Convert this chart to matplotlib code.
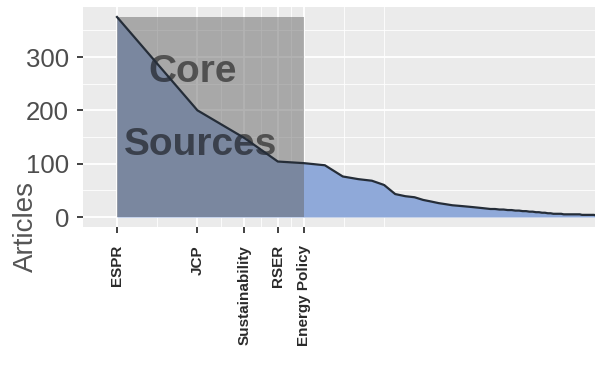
import numpy as np
import matplotlib
matplotlib.use("Agg")
import matplotlib.pyplot as plt
from matplotlib.patches import Rectangle

# Articles per source, sources sorted by rank (Bradford plot, x = log(rank))
freq = [375, 200, 148, 104, 101, 97, 76, 71, 68, 60,
        43, 39, 37, 32, 29, 26, 24, 22, 21, 20,
        19, 18, 17, 16, 15, 15, 14, 14, 13, 13,
        12, 12, 11, 11, 10, 10, 9, 9, 8, 8,
        7, 7, 6, 6, 6, 6, 5, 5, 5, 5,
        5, 5, 5, 5, 4, 4, 4, 4, 4, 4,
        4, 3, 3, 3, 3]
core_labels = ["ESPR", "JCP", "Sustainability", "RSER", "Energy Policy"]
n_core = len(core_labels)

rank = np.arange(1, len(freq) + 1)
x = np.log(rank)
freq = np.array(freq)

plt.rcParams['font.family'] = ['Liberation Sans', 'DejaVu Sans']

fig = plt.figure(figsize=(5.95, 3.78), dpi=100)
ax = fig.add_axes([83/595, 1 - 227/378, 1 - 83/595, (227 - 7)/378])
ax.set_facecolor('#EBEBEB')

# grid like ggplot theme_gray
major_x = x[:n_core]
minor_x = [0.347, 0.896, 1.242, 1.498, 1.956, 2.303]
for v in [0, 100, 200, 300]:
    ax.axhline(v, color='white', lw=1.3, zorder=0)
for v in [50, 150, 250, 350]:
    ax.axhline(v, color='white', lw=0.6, zorder=0)
for v in major_x:
    ax.axvline(v, color='white', lw=1.3, zorder=0)
for v in minor_x:
    ax.axvline(v, color='white', lw=0.6, zorder=0)

ax.fill_between(x, 0, freq, color='#8FA9D9', lw=0, zorder=1)

# core zone rectangle
ax.add_patch(Rectangle((0, 0), x[n_core - 1], freq.max(), facecolor='#676767',
                       alpha=0.5, lw=0, zorder=2))

ax.text(0.65, 253, "Core", fontsize=28, fontweight='bold', color='black',
        alpha=0.52, ha='center', va='baseline', zorder=2.5)
ax.text(0.72, 116, "Sources", fontsize=28, fontweight='bold', color='black',
        alpha=0.52, ha='center', va='baseline', zorder=2.5)

ax.plot(x, freq, color='#252d38', lw=1.6, zorder=3)

ax.set_xlim(-0.293, 4.12)
ax.set_ylim(-18.75, 393.75)

ax.set_yticks([0, 100, 200, 300])
ax.set_yticklabels(['0', '100', '200', '300'])
ax.set_xticks(major_x)
ax.set_xticklabels(core_labels, rotation=90, fontweight='bold', fontsize=11,
                   color='#2a2a2a', va='top', ha='center')
ax.tick_params(axis='y', labelsize=18.5, labelcolor='#4d4d4d', length=4,
               width=1.3, color='#333333', pad=6)
ax.tick_params(axis='x', length=4, width=1.3, color='#333333', pad=9)

for s in ax.spines.values():
    s.set_visible(False)

fig.text(26/595, 1 - 226/378, "Articles", rotation=90, fontsize=20,
         color='#555555', ha='center', va='center')

fig.savefig('out.png', dpi=100)
